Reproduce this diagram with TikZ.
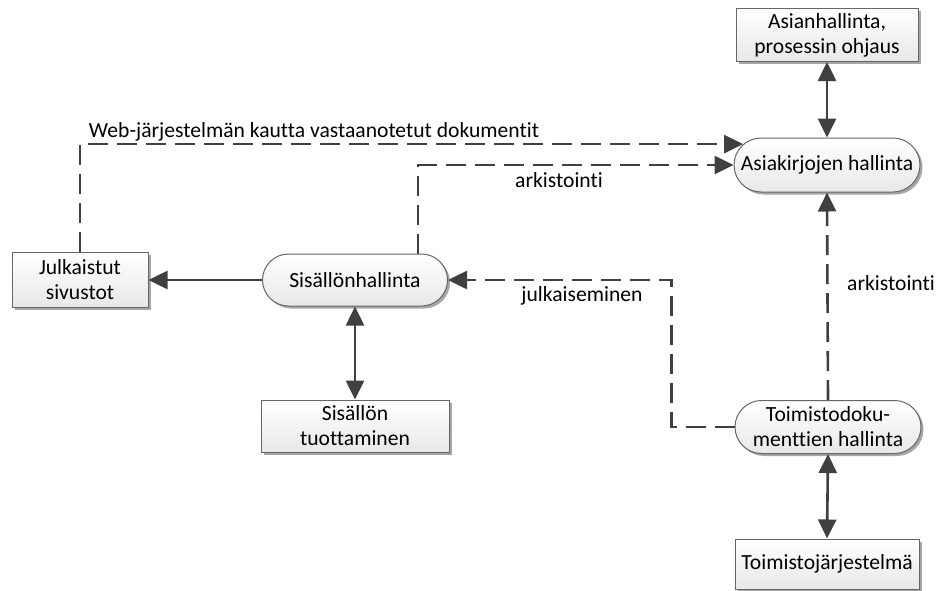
\documentclass[tikz,border=0pt]{standalone}
\usepackage{fontspec}
\setmainfont[Ligatures=NoCommon]{Carlito}
\usetikzlibrary{arrows.meta,shapes.misc,shadows}
\definecolor{ln}{HTML}{404040}
\begin{document}
\begin{tikzpicture}[x=1pt,y=-1pt,
  font=\fontsize{21.6}{25}\selectfont,
  base/.style={draw=ln!80, line width=1pt, align=center, inner sep=2pt,
    top color=white, bottom color=black!9,
    drop shadow={shadow xshift=2.5pt, shadow yshift=-2.5pt, fill=black!35, opacity=1}},
  boxnode/.style={base, rectangle},
  roundnode/.style={base, rounded rectangle},
  conn/.style={draw=ln, line width=2.6pt},
  dashconn/.style={conn, dash pattern=on 20pt off 9pt},
  tip/.style={-{Triangle[length=19pt,width=18pt]}},
  bitip/.style={{Triangle[length=19pt,width=18pt]}-{Triangle[length=19pt,width=18pt]}},
  lbl/.style={inner sep=0pt, fill=none}
]
\useasboundingbox (0,0) rectangle (939,590);

\node[boxnode, minimum width=182pt, minimum height=53pt] (ah) at (827,35) {Asianhallinta,\\prosessin ohjaus};
\node[roundnode, minimum width=190pt, minimum height=54pt] (ak) at (827,165) {Asiakirjojen hallinta};
\node[boxnode, minimum width=136pt, minimum height=55pt] (jul) at (80,280) {Julkaistut\\sivustot};
\node[roundnode, minimum width=189pt, minimum height=52pt] (sis) at (355,280) {Sisällönhallinta};
\node[boxnode, minimum width=188pt, minimum height=52pt] (tuo) at (355,426) {Sisällön\\tuottaminen};
\node[roundnode, minimum width=190pt, minimum height=53pt] (tdh) at (828,427) {Toimistodoku-\\menttien hallinta};
\node[boxnode, minimum width=184pt, minimum height=50pt] (tj) at (827,564) {Toimistojärjestelmä};

% solid connectors
\draw[conn, bitip] (ak.north) -- (ah.south);
\draw[conn, tip] (sis.west) -- (jul.east);
\draw[conn, bitip] (sis.south) -- (tuo.north);
\draw[conn, bitip] (tdh.south) -- (tj.north);

% dashed connectors
\draw[dashconn, tip] (jul.north) |- (ak.166);
\draw[dashconn, tip] ([xshift=63pt]sis.north) |- (ak.west);
\draw[dashconn, tip] (tdh.west) -- ++(-63,0) |- (sis.east);
\draw[dashconn, tip] (tdh.north) -- (ak.south);

% labels
\node[lbl] (l1) at (314,132) {Web-järjestelmän kautta vastaanotetut dokumentit};
\node[lbl] (l2) at (559,180) {arkistointi};
\node[lbl] (l3) at (582,296) {julkaiseminen};
\node[lbl] (l4) at (891,283) {arkistointi};
\end{tikzpicture}
\end{document}
